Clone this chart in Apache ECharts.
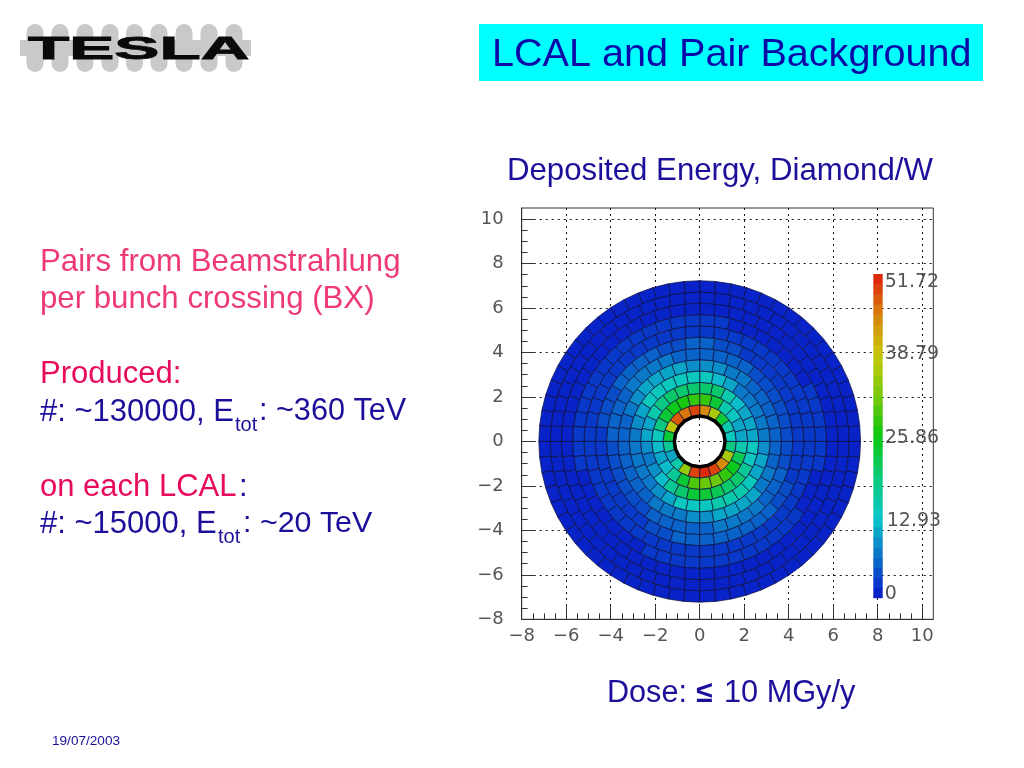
<!DOCTYPE html>
<html><head><meta charset="utf-8">
<style>html,body{margin:0;padding:0;background:#fff}#c{width:1024px;height:768px}</style>
<script src="https://cdn.jsdelivr.net/npm/echarts@6/dist/echarts.min.js"></script>
</head><body><div id="c"></div>
<script>
// Ring edges (radius, cm) from the hole to the outer rim
const ringEdges = [1.14,1.65,2.16,2.66,3.17,3.68,4.19,4.69,5.20,5.71,6.22,6.72,7.23];
// Deposited energy per pad, counter-clockwise from +x; each ring adds 4 pads
const ring1 = [13,15,24,36,44, 49,46,47,38,24, 17,11,16,34,49, 51,49,44,37,19];
const ring2 = [11,11,13,15,24,28, 29,27,25,24,19,14, 12,10,12,17,24,30, 31,31,28,25,22,16];
const ring3 = [10,10,10,12,16,20,21, 21,21,20,19,15,11,10, 9,8,9,12,17,21,23, 23,22,21,20,17,14,13];
const ring4 = [7,7,7,8,8,10,12,14, 14,14,14,14,13,11,9,8, 8,7,7,8,9,11,13,14, 14,15,16,15,13,11,10,9];
const ring5 = [6,6,5,6,6,7,8,9,9, 9,10,10,10,10,9,7,6,6, 6,5,5,5,5,7,8,8,9, 9,10,11,11,10,8,7,6,6];
const ring6 = [4,4,4,4,4,4,5,5,6,6, 6,6,7,7,7,7,6,5,5,5, 4,4,4,4,4,4,5,6,6,6, 6,7,8,8,7,6,5,5,4,4];
const ring7 = [3,3,3,2,2,3,3,3,4,4,5, 5,4,4,5,5,5,5,4,4,4,3, 3,3,3,3,3,3,3,4,4,5,5, 5,5,5,6,5,5,4,4,3,3,3];
const ring8 = [3,3,2,2,2,2,2,2,2,2,2,3, 3,3,3,3,3,3,3,3,3,3,3,3, 3,2,2,2,2,2,2,2,3,3,3,3, 3,3,3,3,3,3,3,3,2,2,2,3];
const ring9 = [2,2,2,2,1.5,1.5,1.5,1.5,1.5,1.5,1.5,2,2, 2,2,2,2,2,2,2,2,2,2,2,2,2, 2,2,1.5,1.5,1.5,1.5,1.5,1.5,1.5,2,2,2,2, 2,2,2,2,2,2,2,2,1.5,1.5,1.5,2,2];
const ring10 = [1.5,1.5,1,1,1,1,1,1,1,1,1,1,1.5,1.5, 1.5,1.5,1.5,1.5,1.5,1,1,1,1,1.5,1.5,1.5,1.5,1.5, 1.5,1.5,1,1,1,1,1,1,1,1,1,1.5,1.5,1.5, 1.5,1.5,1.5,1.5,1.5,1.5,1,1,1,1,1,1.5,1.5,1.5];
const ring11 = [1,1,1,1,.8,.8,.8,.8,.8,.8,.8,1,1,1,1, 1,1,1,1,1,1,1,.8,.8,.8,1,1,1,1,1, 1,1,.8,.8,.8,.8,.8,.8,.8,.8,.8,1,1,1,1, 1,1,1,1,1,1,.8,.8,.8,.8,.8,.8,1,1,1];
const ring12 = [.8,.8,.6,.6,.6,.6,.6,.6,.6,.6,.6,.6,.6,.6,.8,.8, .8,.8,.6,.6,.6,.6,.6,.6,.6,.6,.6,.6,.6,.6,.8,.8, .8,.8,.6,.6,.6,.6,.6,.6,.6,.6,.6,.6,.6,.6,.8,.8, .8,.8,.6,.6,.6,.6,.6,.6,.6,.6,.6,.6,.6,.6,.8,.8];
const rings = [ring1,ring2,ring3,ring4,ring5,ring6,ring7,ring8,ring9,ring10,ring11,ring12];
// Axis values
const axisTicks = [-8,-6,-4,-2,0,2,4,6,8,10];
const scaleLabels = [0,12.93,25.86,38.79,51.72];
const scaleMax = 51.72;
const bandCount = 32;
// Palette
const stops = [[0,[8,26,200]],[6.5,[10,110,200]],[12.93,[10,200,200]],[19.4,[10,200,120]],[25.86,[10,200,15]],[32.3,[120,200,10]],[38.79,[200,200,10]],[45.2,[216,130,10]],[51.72,[220,30,10]]];

function colorOf(v){
  const b = Math.min(bandCount-1, Math.floor(v/scaleMax*bandCount));
  const t = (b+.5)/bandCount*scaleMax;
  let i=0; while(i<stops.length-2 && t>stops[i+1][0]) i++;
  const a=stops[i],c=stops[i+1],f=(t-a[0])/(c[0]-a[0]);
  return 'rgb('+a[1].map((x,k)=>Math.round(x+(c[1][k]-x)*f)).join(',')+')';
}
const cells=[];
rings.forEach((vals,r)=>vals.forEach((v,s)=>cells.push([r,s,v])));
const bands=[];
for(let i=0;i<bandCount;i++) bands.push([i/bandCount*scaleMax,(i+1)/bandCount*scaleMax]);

const NAVY='#1c0f9a', PINK1='#ee3a72', PINK2='#e80a5c', FONT='"Liberation Sans"';
function txt(x,y,t,size,fill,extra){
  return Object.assign({type:'text',x,y,silent:true,z:10,style:{text:t,font:size+'px '+FONT,fill,textVerticalAlign:'middle'}},extra||{});
}
const logo=[{type:'rect',z:5,shape:{x:20,y:40,width:231,height:16},style:{fill:'#c9c9c9'}}];
[26.5,51.5,76.5,101.5,126,150.5,175.5,200.5,225.5].forEach(x=>logo.push({type:'rect',z:5,shape:{x,y:24,width:17,height:48,r:8.5},style:{fill:'#c9c9c9'}}));
logo.push({type:'text',z:6,x:28,y:50,scaleX:2.18,style:{text:'TESLA',font:'bold 31px '+FONT,fill:'#0a0a0a',stroke:'#0a0a0a',lineWidth:.8,textVerticalAlign:'middle'}});

const graphic=[...logo,
 {type:'rect',z:5,shape:{x:479,y:24,width:504,height:57},style:{fill:'#00ffff'}},
 txt(492,55,'LCAL and Pair Background',39.6,'#0a0aa8'),
 txt(507,171,'Deposited Energy, Diamond/W',31.2,NAVY),
 txt(40,262,'Pairs from Beamstrahlung',31.2,PINK1),
 txt(40,299,'per bunch crossing (BX)',31.2,PINK1),
 txt(40,374,'Produced:',31,PINK2),
 txt(40,412,'#: ~130000, E',31,NAVY),
 txt(235,425,'tot',20,NAVY),
 txt(259,412,': ~360 TeV',30.6,NAVY),
 txt(40,487,'on each LCAL',31,PINK2),
 txt(239,487,':',31,NAVY),
 txt(40,524,'#: ~15000, E',31,NAVY),
 txt(218,537,'tot',20,NAVY),
 txt(243,524,': ~20 TeV',30.4,NAVY),
 txt(607,694,'Dose:',30.6,NAVY),
 txt(696,694,'≤',30,NAVY,{style:{text:'≤',font:'bold 30px '+FONT,fill:NAVY,textVerticalAlign:'middle'}}),
 txt(724,694,'10 MGy/y',30.7,NAVY),
 txt(52,741,'19/07/2003',13.6,NAVY)
];

const axisFont={color:'#555',fontFamily:'"DejaVu Sans"',fontSize:18};
const fmt=v=>String(v).replace('-','\u2212');
const scaleRich={fontFamily:'"DejaVu Sans"',fontSize:19,color:'#555'};
function scaleText(v){ return v===0?'{z|0}':v<20?'{a|'+v.toFixed(2)+'}':v<30?'{b|'+v.toFixed(2)+'}':v<45?'{c|'+v.toFixed(2)+'}':'{d|'+v.toFixed(2)+'}'; }
function mainAxis(labelMargin){
  return {type:'value',min:-8,max:10.5,interval:2,
    axisLine:{show:true,onZero:false,lineStyle:{color:'#333',width:1}},
    axisTick:{show:true,inside:true,length:13,customValues:axisTicks,lineStyle:{color:'#333'}},
    minorTick:{show:true,splitNumber:4,length:6,lineStyle:{color:'#333'}},
    splitLine:{show:true,lineStyle:{color:'#111',type:[2,4],width:1}},
    axisLabel:Object.assign({margin:labelMargin,customValues:axisTicks,formatter:fmt},axisFont)};
}
const option={
  animation:false,
  backgroundColor:'#fff',
  graphic:{elements:graphic},
  grid:[
    {left:521.7,top:208,width:411.6,height:411.3,show:true,borderColor:'#333',borderWidth:1,backgroundColor:'transparent'},
    {left:873.3,top:274,width:9.4,height:323.7}
  ],
  xAxis:[Object.assign(mainAxis(8),{gridIndex:0}),
    {gridIndex:1,type:'value',min:0,max:1,show:false}],
  yAxis:[Object.assign(mainAxis(18),{gridIndex:0}),
    {gridIndex:1,type:'value',min:0,max:scaleMax,position:'right',
     axisLine:{show:false},axisTick:{show:false},splitLine:{show:false},
     axisLabel:{margin:2,customValues:scaleLabels,formatter:scaleText,
       rich:{z:Object.assign({padding:[0,0,8,0]},scaleRich),
             a:Object.assign({padding:[8,0,0,2]},scaleRich),
             b:Object.assign({padding:[4,0,0,0]},scaleRich),
             c:Object.assign({padding:[0,0,2,0]},scaleRich),
             d:Object.assign({padding:[16,0,0,0]},scaleRich)}}}],
  series:[
   {type:'custom',name:'Deposited energy',xAxisIndex:0,yAxisIndex:0,clip:false,silent:true,z:3,data:cells,
    renderItem(p,api){
      const r=api.value(0),s=api.value(1),v=api.value(2);
      const n=rings[r].length,r0=ringEdges[r],r1=ringEdges[r+1];
      const t0=s/n*2*Math.PI,t1=(s+1)/n*2*Math.PI;
      const pts=[[r0,t0],[r1,t0],[r1,t1],[r0,t1]].map(q=>api.coord([q[0]*Math.cos(q[1]),q[0]*Math.sin(q[1])]));
      return {type:'polygon',shape:{points:pts},style:{fill:colorOf(v),stroke:'#0c0c38',lineWidth:.7}};
    }},
   {type:'custom',name:'Beam hole',xAxisIndex:0,yAxisIndex:0,clip:false,silent:true,z:4,data:[[ringEdges[0],ring1.length]],
    renderItem(p,api){
      const R=api.value(0),n=api.value(1),pts=[];
      for(let i=0;i<n;i++){const t=i/n*2*Math.PI;pts.push(api.coord([R*Math.cos(t),R*Math.sin(t)]));}
      return {type:'polygon',shape:{points:pts},style:{fill:'none',stroke:'#000',lineWidth:3.5}};
    }},
   {type:'custom',name:'Colour scale',xAxisIndex:1,yAxisIndex:1,clip:false,silent:true,z:3,data:bands,
    renderItem(p,api){
      const a=api.coord([0,api.value(0)]),b=api.coord([1,api.value(1)]);
      return {type:'rect',shape:{x:a[0],y:b[1],width:b[0]-a[0],height:a[1]-b[1]+.5},style:{fill:colorOf((api.value(0)+api.value(1))/2)}};
    }}
  ]
};
echarts.init(document.getElementById('c'),null,{renderer:'canvas'}).setOption(option);
</script></body></html>
